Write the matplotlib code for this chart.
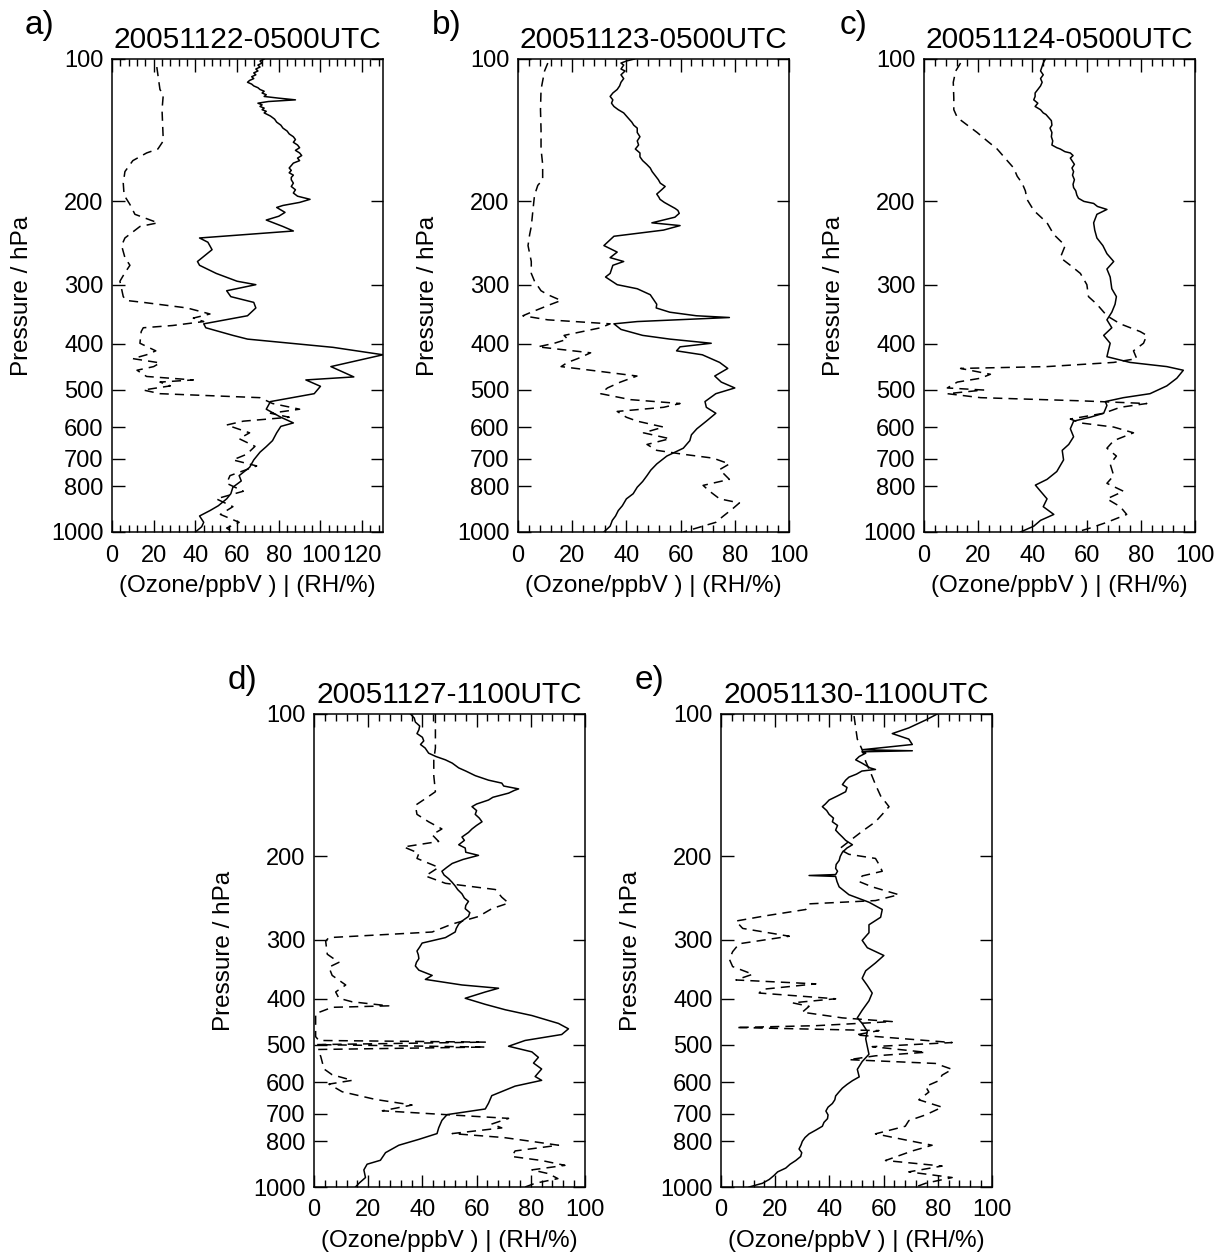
import matplotlib
matplotlib.use("Agg")
import matplotlib.pyplot as plt
from matplotlib.ticker import FixedLocator, MultipleLocator, NullLocator

plt.rcParams['font.family'] = ['Liberation Sans', 'DejaVu Sans']

# panel labels / titles
letters = ['a)', 'b)', 'c)', 'd)', 'e)']
titles = ['20051122-0500UTC', '20051123-0500UTC', '20051124-0500UTC',
          '20051127-1100UTC', '20051130-1100UTC']
x_max = [130, 100, 100, 100, 100]
p_ticks = [100, 200, 300, 400, 500, 600, 700, 800, 1000]

# a) ozone (ppbV) and RH (%) vs pressure (hPa)
p_a_o3 = [100, 101, 102, 103, 104, 105, 106, 107, 108, 109, 110, 111, 112, 113, 114, 115, 116, 117, 118,
          119, 120, 121, 122, 123, 124, 125, 126, 127, 128, 129, 130, 132, 134, 136, 138, 140, 142, 144,
          146, 148, 150, 152, 154, 156, 158, 160, 162, 164, 166, 168, 170, 172, 174, 176, 178, 180, 183,
          186, 189, 192, 195, 198, 201, 204, 206, 211, 215, 219, 226, 231, 239, 244, 253, 268, 273, 284,
          295, 300, 309, 318, 327, 336, 349, 363, 370, 384, 391, 407, 422, 447, 470, 477, 492, 510, 530,
          550, 572, 588, 598, 617, 641, 660, 678, 704, 730, 760, 780, 804, 830, 851, 880, 901, 925, 954,
          975, 1000]
o3_a = [73, 71, 72, 70, 71, 69, 70, 68, 69, 67, 68, 66, 65, 67, 68, 70, 71, 73, 72,
        74, 73, 80, 88, 75, 70, 72, 71, 73, 72, 74, 73, 76, 78, 79, 81, 82, 84, 85,
        87, 88, 87, 89, 90, 88, 90, 91, 89, 90, 87, 86, 85, 86, 85, 87, 86, 86, 87,
        86, 88, 87, 89, 95, 90, 82, 79, 83, 80, 74, 82, 87, 42, 46, 48, 41, 42, 50,
        60, 69, 55, 57, 68, 69, 65, 44, 45, 58, 65, 106, 130, 105, 116, 93, 100, 97, 76,
        74, 81, 87, 81, 79, 77, 74, 71, 68, 66, 61, 62, 58, 57, 55, 51, 47, 42, 44,
        43, 40]
p_a_rh = [104, 116, 119, 128, 149, 155, 158, 164, 173, 183, 194, 203, 213, 222, 226, 239, 248, 263, 273,
          284, 295, 318, 324, 327, 336, 346, 353, 359, 366, 370, 377, 399, 414, 422, 430, 439, 447, 455,
          469, 477, 482, 491, 501, 510, 520, 535, 550, 561, 572, 583, 594, 617, 635, 659, 685, 704, 725,
          760, 789, 820, 851, 884, 918, 954, 981, 1000]
rh_a = [21.5, 23, 24.6, 24, 24.6, 22, 16.6, 10, 6.2, 5.4, 5.8, 8.6, 11, 22, 13.4, 6.2, 4.6, 6.2, 8.6,
        6, 3.8, 5.4, 7, 15, 36, 47, 39, 44, 29, 15, 14, 13.4, 21, 16.6, 10, 23, 20, 12,
        16.6, 39, 23, 28, 15, 23, 71, 77, 90, 76, 85, 63, 55, 66, 61, 68.6, 64.6, 58, 69.4,
        56.6, 55, 63, 50, 58, 52, 61, 55, 58]

# b)
p_b_o3 = [100, 101, 102, 103, 105, 106, 108, 110, 112, 114, 116, 118, 120, 122, 124, 126, 128, 130, 132,
          134, 136, 138, 140, 143, 146, 149, 152, 155, 158, 161, 164, 167, 170, 173, 176, 180, 183, 186,
          189, 193, 196, 198, 201, 204, 207, 209, 212, 216, 222, 225, 230, 237, 248, 256, 263, 268, 273,
          284, 289, 300, 306, 315, 330, 336, 343, 349, 352, 359, 363, 373, 384, 391, 399, 406, 414, 422,
          438, 451, 468, 482, 496, 510, 530, 545, 561, 583, 605, 623, 641, 665, 691, 718, 740, 760, 782,
          804, 830, 851, 880, 901, 925, 945, 972, 1000]
o3_b = [43, 40, 38, 39, 38, 39.5, 38, 39, 38, 37.5, 36.6, 35, 34, 35, 34.5, 35.4, 37, 39, 40,
        41, 42, 42.7, 44, 44, 45, 44, 44.5, 43.3, 45, 45, 46, 47.5, 48.8, 49.5, 50.5, 51.8, 52.5, 54.3,
        53, 51.2, 52, 52.4, 54, 56, 58, 59, 59.5, 57.9, 49.4, 59.8, 53.7, 35.4, 31.7, 36.6, 34, 39, 35,
        34, 32.3, 36.6, 44, 48.8, 51.2, 51, 56, 65.8, 78, 44, 35.4, 38, 46, 56, 71.3, 59.8, 58.5, 68,
        74.4, 77.4, 72.6, 75, 80, 73, 69, 69.5, 73, 69.5, 66, 64, 63.4, 61, 54.9, 51.2, 49, 47.6, 46,
        44, 42.5, 40, 38.5, 37, 36, 34.8, 34, 31.7]
p_b_rh = [102, 106, 116, 128, 141, 155, 167, 180, 185, 194, 209, 226, 235, 248, 268, 284, 295, 309, 315,
          324, 330, 343, 349, 356, 363, 370, 384, 391, 399, 406, 418, 430, 438, 447, 455, 468, 482, 496,
          510, 525, 535, 545, 556, 572, 583, 600, 617, 635, 653, 672, 685, 698, 718, 738, 774, 797, 820,
          851, 868, 892, 927, 954, 981, 1000]
rh_b = [11, 9.8, 8.5, 8.3, 8.5, 8.5, 9.1, 9.1, 7.3, 6.1, 5.5, 4.9, 4.3, 3.7, 4.9, 4.9, 6.1, 8.5, 11,
        15.9, 12.2, 4.9, 1.8, 11, 34, 30.5, 17, 18.3, 13.4, 7.3, 26.8, 22, 18.3, 15.9, 26.8, 43.9, 37.8, 33,
        30.5, 41.5, 59.8, 53.7, 36.6, 40, 44, 53.7, 46.3, 56, 47.6, 51.2, 61, 72, 78, 74.4, 78, 68.3, 70.7,
        74.4, 81.7, 79.3, 75.6, 73, 65.9, 61]

# c)
p_c_o3 = [100, 102, 104, 106, 108, 110, 112, 114, 116, 118, 120, 122, 124, 126, 128, 130, 131, 133, 135,
          138, 140, 143, 146, 149, 152, 154, 155, 157, 158, 160, 162, 164, 167, 170, 173, 176, 180, 184,
          187, 190, 194, 197, 200, 202, 205, 208, 213, 222, 230, 239, 248, 258, 268, 278, 289, 306, 318,
          330, 343, 356, 370, 384, 399, 414, 426, 438, 447, 455, 473, 491, 510, 520, 530, 540, 561, 572,
          583, 605, 629, 653, 672, 704, 745, 774, 796, 820, 851, 884, 918, 945, 972, 1000]
o3_c = [44.8, 44, 43.5, 43, 44, 43, 43.6, 43, 42, 41, 41, 40.5, 42, 41, 43, 44, 45, 46, 47,
        47.2, 46.5, 47.2, 47, 47.5, 47.2, 49, 50.3, 52, 54, 55, 54, 54.6, 55.5, 54.6, 55.2, 54.8, 55.5, 55,
        55.2, 56, 56.4, 57, 59, 62.6, 64, 67.5, 63.8, 62.6, 63, 63.8, 66, 67.5, 70, 67.5, 68.7, 69.3, 71,
        70.5, 69.3, 67.5, 69.3, 66.3, 68.7, 68, 67.5, 76, 89.6, 95.7, 93.3, 89.6, 83.4, 73.6, 66.9, 67.5, 66.3, 61.3,
        55.2, 54, 55.2, 53.4, 51, 51.5, 49, 45.4, 41.1, 43, 45.4, 44, 47.9, 43, 40.5, 35.6]
p_c_rh = [102, 106, 112, 121, 128, 133, 138, 143, 149, 155, 164, 170, 177, 183, 190, 198, 209, 222, 235,
          248, 263, 273, 284, 300, 318, 330, 349, 363, 377, 384, 399, 414, 430, 438, 447, 451, 464, 473,
          482, 496, 501, 510, 520, 528, 535, 545, 561, 577, 588, 600, 617, 641, 665, 691, 718, 760, 789,
          820, 851, 884, 918, 954, 981, 1000]
rh_c = [13.5, 11.7, 10.8, 11, 11, 12.3, 16, 19.6, 23.3, 27, 30.7, 33.1, 34.4, 36.2, 37.4, 38, 40.5, 45.4, 47.9,
        52.1, 50.3, 54, 57.7, 60.1, 60.7, 63.8, 67.5, 72.4, 79.8, 82.2, 81, 77.3, 78.5, 70, 45.4, 13.5, 24.5, 20.9,
        12.3, 8.6, 22, 8.6, 20.9, 57.7, 82.2, 72.4, 66.3, 54, 57.7, 70, 77.3, 70, 67.5, 71, 68.7, 70, 67.5,
        73.6, 67.5, 72.4, 74.8, 67.5, 61.3, 56.4]

# d)
p_d_o3 = [100, 102, 104, 106, 108, 110, 112, 114, 116, 118, 121, 123, 125, 127, 130, 132, 135, 138, 140,
          142, 144, 145, 147, 150, 152, 155, 157, 160, 163, 166, 169, 172, 175, 178, 182, 185, 189, 192,
          196, 199, 203, 207, 211, 215, 219, 223, 227, 231, 235, 240, 245, 249, 254, 258, 263, 268, 273,
          278, 284, 289, 297, 305, 311, 317, 323, 329, 335, 341, 348, 357, 364, 374, 380, 387, 399, 411,
          422, 434, 451, 463, 476, 490, 504, 518, 532, 547, 563, 584, 595, 612, 641, 665, 684, 703, 723,
          750, 771, 793, 816, 846, 878, 895, 920, 955, 982, 1000]
o3_d = [35.6, 37, 37.4, 39, 38.7, 38, 40, 40.5, 39.3, 41, 42.3, 45, 48.5, 51, 53.4, 56, 59.5, 64.4, 69.3,
        70, 75.5, 74, 71.8, 66, 64.4, 60, 58.3, 60, 59.5, 61, 62, 60, 58.3, 57, 54.6, 55.5, 53.4, 55.8,
        56, 60.7, 55, 51, 49, 47.2, 48, 49.7, 51, 52.1, 53, 54.6, 55.5, 57, 56, 55.8, 57.5, 57, 55,
        53.4, 52.5, 52.1, 48.5, 39.9, 39, 38, 38.5, 38.7, 37.8, 37.4, 38.7, 43.6, 41.1, 54.6, 68.1, 63.2, 55.8, 63.2,
        70.6, 80.4, 90.2, 93.9, 91.4, 77.9, 71.8, 80.4, 82.8, 81, 84, 81.6, 84, 74.2, 65.6, 64.4, 63.2, 49.1, 47.2,
        46, 45.4, 38.7, 31.3, 26.4, 24.5, 19.6, 18.4, 19, 16.6, 15.3]
p_d_rh = [100, 108, 118, 125, 135, 146, 151, 156, 163, 169, 175, 180, 186, 191, 197, 202, 211, 220, 228,
          235, 244, 251, 258, 268, 278, 289, 297, 302, 322, 335, 343, 357, 374, 387, 399, 406, 414, 417,
          430, 451, 481, 490, 494, 500, 506, 512, 530, 563, 579, 595, 606, 629, 653, 671, 690, 703, 716,
          736, 750, 771, 786, 801, 816, 839, 862, 879, 900, 920, 937, 960, 982, 1000]
rh_d = [44.8, 44.8, 44.8, 44.2, 44.2, 44.8, 41.1, 37.4, 38, 42.3, 47.2, 43.6, 46, 33.1, 38.7, 38, 46, 41.1, 48.5,
        66.9, 69.3, 71.8, 65.6, 60.7, 51, 43.6, 5.5, 4.3, 4.9, 9.2, 5.5, 6.7, 11.7, 8, 9.2, 14.1, 27.6, 6.7,
        0.6, 0.6, 0.6, 1.8, 63.2, 1, 63.2, 1.5, 2.5, 3.7, 6.7, 14.1, 5.5, 10.4, 22.7, 36.2, 25.2, 48.5, 71.8,
        65.6, 69.3, 51, 70, 80.4, 90.2, 74.2, 73, 84, 92.6, 80.4, 86.5, 90, 81.6, 77.9]

# e)
p_e_o3 = [100, 103, 107, 110, 113, 116, 119, 119.6, 120.2, 121, 123, 125, 127, 128, 130, 131, 132, 134,
          136, 138, 141, 143, 146, 149, 152, 155, 157, 160, 163, 166, 169, 172, 176, 179, 182, 185, 189,
          192, 196, 200, 204, 208, 212, 215, 218.5, 219.5, 220.5, 226, 232, 241, 250, 259, 269, 279, 290,
          301, 312, 324, 336, 349, 362, 375, 389, 404, 423, 439, 451, 469, 486, 505, 524, 543, 564, 585,
          596, 607, 618, 630, 642, 654, 666, 678, 691, 704, 717, 730, 744, 758, 772, 786, 801, 816, 831,
          846, 862, 879, 895, 912, 929, 946, 964, 982, 1000]
o3_e = [79.8, 75.5, 69.3, 63.2, 69.3, 70.6, 52.1, 70.6, 52, 53.4, 51, 49.7, 52, 53, 55, 57, 52, 50,
        47.2, 46, 44.8, 46.5, 46, 43, 39.9, 38.5, 37.4, 39, 39.9, 41.5, 41.1, 43, 42.3, 43.5, 44.8, 46, 48.5,
        46.5, 44.8, 44, 43.6, 42.5, 42.3, 43, 42.3, 32.5, 42.3, 42.8, 43.6, 47.2, 54.6, 59.5, 58.9, 54.6, 54.6,
        52.1, 54, 60.1, 57, 53.4, 52.1, 54, 55.8, 54.6, 52.1, 50.3, 52.1, 54, 53.4, 54, 54.6, 52.1, 50.3, 51,
        48.5, 46.5, 44.8, 43.5, 42.3, 42, 41.1, 39.5, 38.7, 39.5, 39.3, 38, 37.4, 35, 32.5, 31, 30, 29.5, 28.8,
        29.8, 29.4, 27.6, 25.5, 23.9, 20.9, 19.5, 17.8, 15.3, 10.4]
p_e_rh = [101, 107, 113, 119, 126, 133, 141, 149, 157, 163, 169, 177, 186, 193, 198, 202, 208, 215, 220,
          226, 232, 241, 248, 252, 259, 267, 274, 284, 295, 306, 318, 330, 342, 355, 365, 372, 382, 389,
          400, 408, 415, 427, 439, 447, 456, 460, 467, 477, 495, 505, 519, 528, 538, 548, 564, 580, 596,
          613, 630, 654, 678, 704, 724, 744, 772, 794, 816, 839, 879, 903, 929, 955, 982, 1000]
rh_e = [49.1, 49.7, 50.3, 52.1, 53.4, 55.2, 57, 58.9, 62, 59.5, 57, 52.1, 47.2, 43.6, 47.2, 57, 58.3, 59.5, 52.1,
        50.9, 55.8, 65.6, 57, 32.5, 31.3, 16.6, 5.5, 8, 25.2, 6.7, 4.3, 3.1, 4.3, 11.7, 5.5, 35, 15.3, 14.1,
        42.3, 26.4, 32.5, 30, 44.8, 63.2, 35, 5.5, 58.3, 49.7, 85.3, 55.8, 75.5, 57, 47.2, 79.1, 85.3, 81.6, 80.4,
        75.5, 76.7, 73, 81.6, 75.5, 69.3, 68, 57, 67.5, 77.9, 70.6, 60.7, 81.6, 69.3, 85.3, 75.5, 71.8]

ozone = [(p_a_o3, o3_a), (p_b_o3, o3_b), (p_c_o3, o3_c), (p_d_o3, o3_d), (p_e_o3, o3_e)]
humid = [(p_a_rh, rh_a), (p_b_rh, rh_b), (p_c_rh, rh_c), (p_d_rh, rh_d), (p_e_rh, rh_e)]

FW, FH = 1225, 1254
fig = plt.figure(figsize=(FW / 100, FH / 100), dpi=100)

# axes boxes in pixels (left, top)
boxes = [(112, 59), (518, 59), (924, 59), (314, 714), (721, 714)]
W, H = 271, 473

for i in range(5):
    l, t = boxes[i]
    ax = fig.add_axes([l / FW, 1 - (t + H) / FH, W / FW, H / FH])
    p, v = ozone[i]
    ax.plot(v, p, color='black', lw=1.1)
    p, v = humid[i]
    ax.plot(v, p, color='black', lw=1.1, linestyle=(0, (6, 4)))

    ax.set_yscale('log')
    ax.set_ylim(1000, 100)
    ax.yaxis.set_major_locator(FixedLocator(p_ticks))
    ax.yaxis.set_minor_locator(NullLocator())
    ax.set_yticklabels([str(x) for x in p_ticks])
    ax.set_xlim(0, x_max[i])
    ax.xaxis.set_major_locator(MultipleLocator(20))
    ax.xaxis.set_minor_locator(MultipleLocator(4))

    ax.tick_params(which='both', direction='in', top=True, right=True, width=1, labelsize=17)
    ax.tick_params(which='major', length=9)
    ax.tick_params(which='minor', length=5)
    ax.tick_params(axis='x', pad=9)
    ax.tick_params(axis='y', pad=6)
    for s in ax.spines.values():
        s.set_linewidth(1.1)

    ax.set_title(titles[i], fontsize=21.5, pad=8)
    ax.set_ylabel('Pressure / hPa', fontsize=17.5, va='center')
    ax.yaxis.set_label_coords(-0.332, 0.5)
    ax.set_xlabel('(Ozone/ppbV ) | (RH/%)', fontsize=17.5)
    ax.xaxis.set_label_coords(0.5, -0.09)

    lx = [25, 432, 840, 228, 635][i]
    fig.text(lx / FW, 1 - (t - 25) / FH, letters[i], fontsize=24, va='baseline', ha='left')

fig.savefig('out.png', dpi=100)
